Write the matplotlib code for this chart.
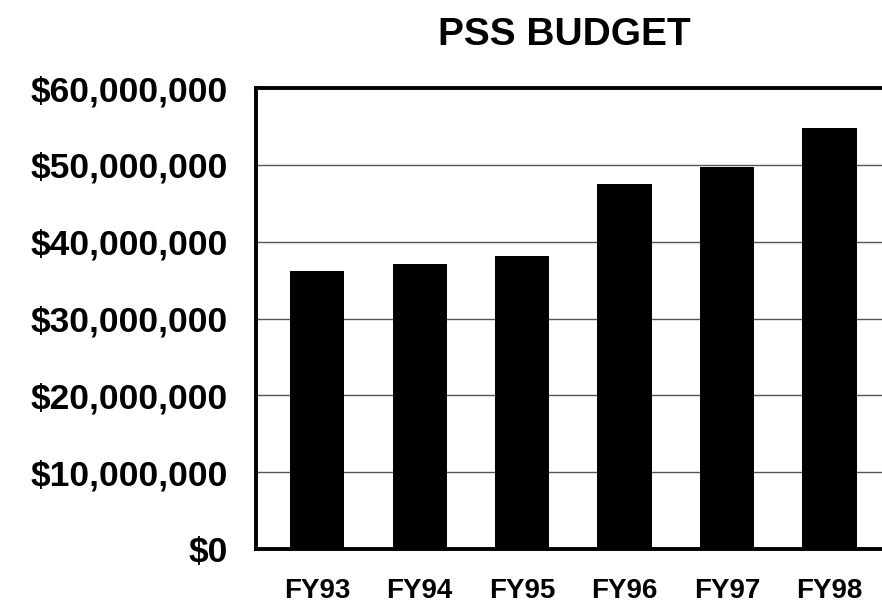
import matplotlib
matplotlib.use("Agg")
import matplotlib.pyplot as plt
from matplotlib.ticker import FuncFormatter

# PSS budget by fiscal year (dollars)
years = ["FY93", "FY94", "FY95", "FY96", "FY97", "FY98"]
budget = [36200000, 37100000, 38200000, 47500000, 49800000, 54800000]
yticks = [0, 10000000, 20000000, 30000000, 40000000, 50000000, 60000000]

plt.rcParams['font.family'] = ['Liberation Sans', 'DejaVu Sans']
plt.rcParams['font.weight'] = 'bold'

fig = plt.figure(figsize=(8.82, 6.08), dpi=100)
ax = fig.add_axes([0.290, 0.097, 0.712, 0.758])

x = range(len(years))
ax.bar(x, budget, width=0.53, color='black', zorder=3)

ax.set_ylim(0, 60000000)
ax.set_xlim(-0.6, 5.53)
ax.set_yticks(yticks)
ax.yaxis.set_major_formatter(FuncFormatter(lambda v, p: "${:,.0f}".format(v)))
ax.set_xticks(list(x))
ax.set_xticklabels(years)

ax.grid(axis='y', color='#555555', linewidth=1.0, zorder=1)
ax.tick_params(axis='both', length=0)
ax.tick_params(axis='y', labelsize=25.5, pad=20)
ax.tick_params(axis='x', labelsize=20, pad=21)
for lab in ax.get_xticklabels() + ax.get_yticklabels():
    lab.set_fontweight('bold')

for side in ['left', 'top', 'bottom']:
    ax.spines[side].set_linewidth(2.8)
    ax.spines[side].set_color('black')
ax.spines['right'].set_visible(False)

fig.text(0.64, 0.942, "PSS BUDGET", ha='center', va='center',
         fontsize=28, fontweight='bold')

fig.savefig("out.png", dpi=100)
